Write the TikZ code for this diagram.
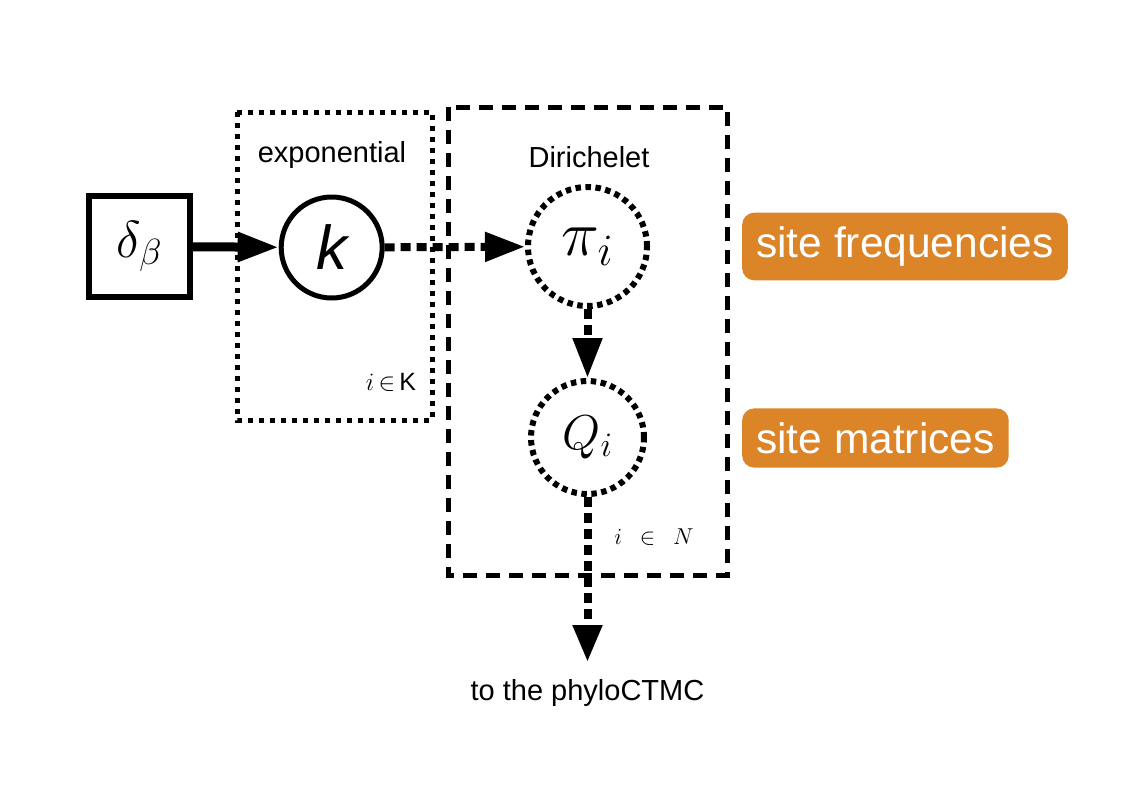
\RequirePackage{fix-cm}
\documentclass[tikz,border=0pt]{standalone}
\usepackage{fontspec}
\setmainfont{Liberation Sans}
\usetikzlibrary{arrows.meta}
\definecolor{labelorange}{RGB}{220,132,40}
\begin{document}
\begin{tikzpicture}[x=1pt,y=-1pt,
  txt/.style={font=\fontsize{29}{34}\selectfont, inner sep=0pt},
  smalltxt/.style={font=\fontsize{25}{30}\selectfont, inner sep=0pt},
  constnode/.style={draw, line width=6pt, minimum size=101pt, inner sep=0pt},
  stochnode/.style={circle, draw, line width=5pt, minimum size=101pt, inner sep=0pt},
  detnode/.style={circle, draw, line width=6pt, dash pattern=on 5.5pt off 4.5pt, inner sep=0pt},
  platedot/.style={line width=5pt, dash pattern=on 5pt off 6pt},
  platedash/.style={line width=5pt, dash pattern=on 14pt off 9pt},
  solidarrow/.style={line width=9pt, -{Triangle[length=41pt,width=28pt]}},
  dotarrow/.style={line width=8pt, dash pattern=on 10pt off 6pt, -{Triangle[length=40pt,width=28pt]}},
  tag/.style={fill=labelorange, text=white, rounded corners=12pt, inner sep=14pt,
    font=\fontsize{42.5}{50}\selectfont, anchor=west}]
\useasboundingbox (0,0) rectangle (1138,790);
% plates
\draw[platedot] (237,112) rectangle (432,420);
\draw[platedash] (448,107) rectangle (727,575);
% plate labels
\node[txt] (explab) at (332,155) {exponential};
\node[txt] (dirlab) at (589,157) {Dirichelet};
\node[smalltxt] (iK) at (391,382) {$i\,{\in}\,$K};
\node[smalltxt, font=\fontsize{23}{28}\selectfont] (iN) at (654,537) {$i\enspace\in\enspace N$};
% nodes
\node[constnode] (delta) at (139.5,246.5) {\fontsize{52}{60}\selectfont$\delta_\beta$};
\node[stochnode] (k) at (331.7,247.5) {\fontsize{62}{70}\selectfont\itshape k};
\node[detnode, minimum size=119pt] (pi) at (587.5,246.5) {\fontsize{64}{70}\selectfont$\pi_i$};
\node[detnode, minimum size=113pt] (Q) at (587.5,437.5) {\fontsize{49}{56}\selectfont$Q_i$};
\coordinate (out) at (587.5,662);
\node[txt] (ctmc) at (587.5,693) {to the phyloCTMC};
% connectors
\draw[solidarrow] (delta) -- (k);
\draw[dotarrow] (k) -- (pi);
\draw[dotarrow] (pi) -- (Q);
\draw[dotarrow, -{Triangle[length=37pt,width=28pt]}] (Q) -- (out);
% labels
\node[tag] (sf) at (742,246.5) {site frequencies};
\node[tag] (sm) at (742,438) {site matrices};
\end{tikzpicture}
\end{document}
